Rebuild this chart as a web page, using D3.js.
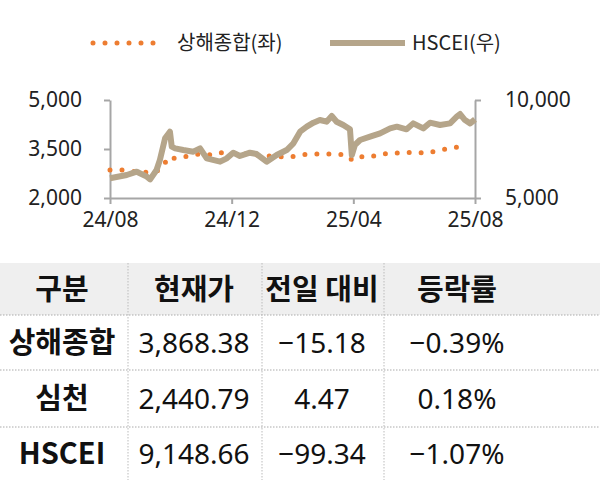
<!DOCTYPE html>
<html><head><meta charset="utf-8">
<script src="https://cdn.jsdelivr.net/npm/d3@7"></script>
<style>body{margin:0;background:#fff}svg{display:block;font-family:"Noto Sans CJK KR","Noto Sans",sans-serif}</style>
</head><body><svg id="c" width="600" height="480"></svg>
<script>
// months since 2024/08
const xTickVals = [0, 4, 8, 12];
const xTickLabels = ["24/08", "24/12", "25/04", "25/08"];
const leftTicks = [2000, 3500, 5000];
const rightTicks = [5000, 10000];
const shT = [0,0.44,1.0,1.5,1.75,1.9,2.09,2.18,2.3,2.48,2.95,3.4,3.68,3.98,4.37,5.86,6.25,6.63,7.02,7.4,7.78,7.98,8.35,8.77,9.18,9.59,10.03,10.43,10.83,11.26,11.67];
const shV = [2857,2857,2780,2800,2950,3245,3214,3245,3265,3270,3347,3316,3388,3388,3350,3245,3316,3347,3347,3347,3316,3143,3286,3286,3388,3367,3408,3367,3469,3520,3622];
const hsT = [0,0.55,0.88,1.21,1.32,1.53,1.64,1.81,1.97,2.03,2.14,2.41,2.74,2.96,3.18,3.62,3.84,4.05,4.27,4.6,4.82,5.15,5.48,5.81,6.03,6.25,6.47,6.69,6.9,7.12,7.29,7.45,7.67,7.89,7.95,8.05,8.22,8.55,8.88,9.21,9.43,9.75,9.97,10.3,10.52,10.85,11.18,11.4,11.51,11.67,11.84,12];
const hsV = [6005,6173,6342,6088,5952,6428,6938,8044,8383,7618,7533,7448,7363,7533,7023,6853,7023,7312,7142,7312,7244,6853,7193,7448,7788,8383,8639,8843,8978,8893,9182,8893,8723,8503,7193,7703,7958,8128,8298,8553,8639,8503,8808,8553,8843,8723,8808,9148,9284,8978,8808,9014];
const legendNames = ["상해종합(좌)", "HSCEI(우)"];
const tableHeader = ["구분", "현재가", "전일 대비", "등락률"];
const rowNames = ["상해종합", "심천", "HSCEI"];
const rowPrice = ["3,868.38", "2,440.79", "9,148.66"];
const rowChange = ["−15.18", "4.47", "−99.34"];
const rowRate = ["−0.39%", "0.18%", "−1.07%"];

const svg = d3.select("#c");
const orange = "#ED7D31", tan = "#B5A58A", axisC = "#a6a6a6";
const x = d3.scaleLinear().domain([0, 12]).range([110, 475]);
const yL = d3.scaleLinear().domain([2000, 5000]).range([198, 100]);
const yR = d3.scaleLinear().domain([5000, 10000]).range([198, 100]);

const fmt = d3.format(",");
const gL = svg.append("g").attr("transform", "translate(110,0)")
  .call(d3.axisLeft(yL).tickValues(leftTicks).tickFormat(fmt).tickSize(6).tickSizeOuter(0));
const gR = svg.append("g").attr("transform", "translate(475,0)")
  .call(d3.axisRight(yR).tickValues(rightTicks).tickFormat(fmt).tickSize(6).tickSizeOuter(0));
const gX = svg.append("g").attr("transform", "translate(0,198)")
  .call(d3.axisBottom(x).tickValues(xTickVals).tickFormat((d, i) => xTickLabels[i]).tickSize(6).tickSizeOuter(0));
[gL, gR, gX].forEach(g => {
  g.selectAll("path,line").attr("stroke", axisC).attr("stroke-width", 2);
  g.selectAll("text").attr("fill", "#222").attr("font-size", 21).attr("font-family", "'Noto Sans','Noto Sans CJK KR',sans-serif");
});
gL.selectAll("text").attr("x", -28);
gR.selectAll("text").attr("x", 30);
gX.selectAll("text").attr("y", 14);

const sh = shT.map((t, i) => [t, shV[i]]);
const hs = hsT.map((t, i) => [t, hsV[i]]);
svg.append("path").datum(sh).attr("fill", "none").attr("stroke", orange).attr("stroke-width", 5)
  .attr("stroke-linecap", "round").attr("stroke-dasharray", "0 12")
  .attr("d", d3.line().x(d => x(d[0])).y(d => yL(d[1])));
svg.append("path").datum(hs).attr("fill", "none").attr("stroke", tan).attr("stroke-width", 6)
  .attr("stroke-linejoin", "round")
  .attr("d", d3.line().x(d => x(d[0])).y(d => yR(d[1])));

svg.append("line").attr("x1", 93).attr("x2", 165).attr("y1", 43).attr("y2", 43)
  .attr("stroke", orange).attr("stroke-width", 5).attr("stroke-linecap", "round").attr("stroke-dasharray", "0 12");
svg.append("text").attr("x", 177).attr("y", 50).attr("font-size", 20).attr("fill", "#222").text(legendNames[0]);
svg.append("line").attr("x1", 330).attr("x2", 405).attr("y1", 43).attr("y2", 43)
  .attr("stroke", tan).attr("stroke-width", 6);
svg.append("text").attr("x", 412).attr("y", 50).attr("font-size", 20).attr("fill", "#222").text(legendNames[1]);

const colC = [62, 194, 322, 457];
const colDiv = [128, 262, 384];
svg.append("rect").attr("x", 0).attr("y", 263).attr("width", 600).attr("height", 52).attr("fill", "#efefef");
const rowTop = [315, 370, 427, 480];
[315, 370, 427].forEach(yy => svg.append("line").attr("x1", 0).attr("x2", 600).attr("y1", yy).attr("y2", yy)
  .attr("stroke", "#aaa").attr("stroke-width", 1).attr("stroke-dasharray", "1.5 1.5"));
colDiv.forEach(xx => svg.append("line").attr("x1", xx).attr("x2", xx).attr("y1", 263).attr("y2", 480)
  .attr("stroke", "#bbb").attr("stroke-dasharray", "1.5 1.5"));
tableHeader.forEach((h, i) => svg.append("text").attr("x", colC[i]).attr("y", 300).attr("text-anchor", "middle")
  .attr("font-size", 29).attr("font-weight", 700).attr("fill", "#111").text(h));
const cols = [rowNames, rowPrice, rowChange, rowRate];
rowNames.forEach((_, r) => {
  const cy = (rowTop[r] + rowTop[r + 1]) / 2 + 10;
  cols.forEach((c, i) => svg.append("text").attr("x", colC[i]).attr("y", cy).attr("text-anchor", "middle")
    .attr("font-size", i === 0 ? 29 : 28).attr("font-weight", i === 0 ? 700 : 400).attr("fill", "#111")
    .attr("font-family", i === 0 ? null : "'Noto Sans',sans-serif").text(c[r]));
});
</script></body></html>
